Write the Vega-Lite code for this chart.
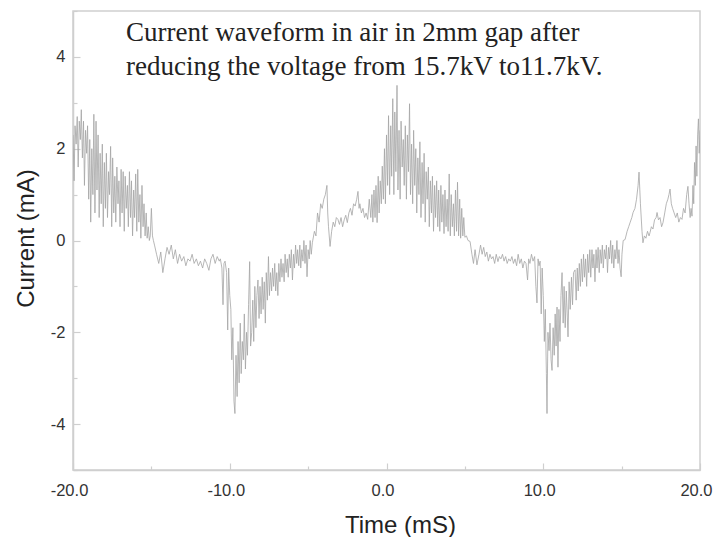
{
  "$schema": "https://vega.github.io/schema/vega-lite/v6.json",
  "autosize": "none",
  "width": 627,
  "height": 459,
  "padding": {"left": 73, "top": 11, "right": 13, "bottom": 67},
  "background": "white",
  "config": {
    "view": {"stroke": "#cfcfcf", "strokeWidth": 1.5},
    "axis": {
      "domainColor": "#cfcfcf", "domainWidth": 1.5,
      "tickColor": "#cfcfcf", "tickWidth": 1.2,
      "grid": false,
      "labelFont": "Liberation Sans", "labelFontSize": 16.5, "labelColor": "#333",
      "titleFont": "Liberation Sans", "titleFontSize": 24, "titleFontWeight": "normal", "titleColor": "#222"
    }
  },
  "datasets": {
    "wave": [
      {"t":-20.0,"i":2.3},{"t":-19.93,"i":1.3},{"t":-19.87,"i":2.5},{"t":-19.8,"i":2.1},{"t":-19.73,"i":2.7},{"t":-19.67,"i":1.6},{"t":-19.6,"i":2.6},{"t":-19.53,"i":2.2},{"t":-19.47,"i":2.85},{"t":-19.4,"i":1.8},
      {"t":-19.33,"i":2.6},{"t":-19.27,"i":1.2},{"t":-19.2,"i":2.4},{"t":-19.13,"i":1.9},{"t":-19.07,"i":2.5},{"t":-19.0,"i":0.9},{"t":-18.93,"i":2.2},{"t":-18.87,"i":0.4},{"t":-18.8,"i":2.0},{"t":-18.73,"i":1.0},
      {"t":-18.67,"i":2.75},{"t":-18.6,"i":0.6},{"t":-18.53,"i":2.6},{"t":-18.47,"i":1.1},{"t":-18.4,"i":2.3},{"t":-18.33,"i":0.5},{"t":-18.27,"i":1.9},{"t":-18.2,"i":0.8},{"t":-18.13,"i":2.1},{"t":-18.07,"i":0.3},
      {"t":-18.0,"i":1.7},{"t":-17.93,"i":0.7},{"t":-17.87,"i":1.9},{"t":-17.8,"i":0.5},{"t":-17.73,"i":1.5},{"t":-17.67,"i":1.0},{"t":-17.6,"i":2.05},{"t":-17.53,"i":0.3},{"t":-17.47,"i":1.8},{"t":-17.4,"i":0.6},
      {"t":-17.33,"i":1.4},{"t":-17.27,"i":0.4},{"t":-17.2,"i":1.6},{"t":-17.13,"i":0.8},{"t":-17.07,"i":1.3},{"t":-17.0,"i":0.3},{"t":-16.93,"i":1.55},{"t":-16.87,"i":0.6},{"t":-16.8,"i":1.5},{"t":-16.73,"i":0.2},
      {"t":-16.67,"i":1.4},{"t":-16.6,"i":0.7},{"t":-16.53,"i":1.2},{"t":-16.47,"i":0.3},{"t":-16.4,"i":1.5},{"t":-16.33,"i":0.5},{"t":-16.27,"i":1.3},{"t":-16.2,"i":0.1},{"t":-16.13,"i":1.1},{"t":-16.07,"i":0.5},
      {"t":-16.0,"i":1.45},{"t":-15.93,"i":0.2},{"t":-15.87,"i":1.55},{"t":-15.8,"i":0.4},{"t":-15.73,"i":1.0},{"t":-15.67,"i":0.05},{"t":-15.6,"i":1.2},{"t":-15.53,"i":0.3},{"t":-15.47,"i":0.8},{"t":-15.4,"i":0.1},
      {"t":-15.33,"i":0.6},{"t":-15.27,"i":0.05},{"t":-15.2,"i":0.3},{"t":-15.13,"i":0.0},{"t":-15.07,"i":0.1},{"t":-15.0,"i":0.7},{"t":-14.93,"i":0.1},{"t":-14.87,"i":0.0},
      {"t":-14.8,"i":-0.1},{"t":-14.67,"i":-0.3},{"t":-14.53,"i":-0.5},{"t":-14.4,"i":-0.25},{"t":-14.27,"i":-0.7},{"t":-14.13,"i":-0.4},{"t":-14.0,"i":-0.15},{"t":-13.87,"i":-0.3},{"t":-13.73,"i":-0.1},{"t":-13.6,"i":-0.4},
      {"t":-13.47,"i":-0.2},{"t":-13.33,"i":-0.5},{"t":-13.2,"i":-0.3},{"t":-13.07,"i":-0.45},{"t":-12.93,"i":-0.35},{"t":-12.8,"i":-0.55},{"t":-12.67,"i":-0.4},{"t":-12.53,"i":-0.45},{"t":-12.4,"i":-0.3},{"t":-12.27,"i":-0.5},
      {"t":-12.13,"i":-0.4},{"t":-12.0,"i":-0.55},{"t":-11.87,"i":-0.45},{"t":-11.73,"i":-0.6},{"t":-11.6,"i":-0.4},{"t":-11.47,"i":-0.5},{"t":-11.33,"i":-0.65},{"t":-11.2,"i":-0.4},{"t":-11.07,"i":-0.3},{"t":-10.93,"i":-0.5},
      {"t":-10.8,"i":-0.35},{"t":-10.67,"i":-0.45},{"t":-10.6,"i":-0.4},{"t":-10.5,"i":-0.6},{"t":-10.43,"i":-1.4},{"t":-10.37,"i":-0.5},{"t":-10.3,"i":-0.45},{"t":-10.2,"i":-0.7},{"t":-10.13,"i":-1.95},{"t":-10.07,"i":-0.6},
      {"t":-10.0,"i":-1.2},{"t":-9.93,"i":-1.5},{"t":-9.87,"i":-2.6},{"t":-9.8,"i":-1.9},{"t":-9.73,"i":-3.5},{"t":-9.67,"i":-3.77},{"t":-9.6,"i":-2.5},{"t":-9.53,"i":-3.4},{"t":-9.47,"i":-2.2},{"t":-9.4,"i":-3.1},
      {"t":-9.33,"i":-1.8},{"t":-9.27,"i":-2.9},{"t":-9.2,"i":-2.2},{"t":-9.13,"i":-2.6},{"t":-9.07,"i":-1.6},{"t":-9.0,"i":-2.8},{"t":-8.93,"i":-2.0},{"t":-8.87,"i":-2.5},{"t":-8.8,"i":-1.4},{"t":-8.73,"i":-0.46},
      {"t":-8.67,"i":-2.3},{"t":-8.6,"i":-2.0},{"t":-8.53,"i":-1.3},{"t":-8.47,"i":-2.2},{"t":-8.4,"i":-1.0},{"t":-8.33,"i":-1.9},{"t":-8.27,"i":-1.2},{"t":-8.2,"i":-0.86},{"t":-8.13,"i":-1.7},{"t":-8.07,"i":-1.0},
      {"t":-8.0,"i":-1.6},{"t":-7.93,"i":-0.8},{"t":-7.87,"i":-1.5},{"t":-7.8,"i":-0.9},{"t":-7.73,"i":-1.8},{"t":-7.67,"i":-0.7},{"t":-7.6,"i":-1.3},{"t":-7.53,"i":-0.35},{"t":-7.47,"i":-1.2},{"t":-7.4,"i":-0.7},
      {"t":-7.33,"i":-1.1},{"t":-7.27,"i":-0.6},{"t":-7.2,"i":-1.0},{"t":-7.13,"i":-0.5},{"t":-7.07,"i":-1.1},{"t":-7.0,"i":-0.7},{"t":-6.93,"i":-1.2},{"t":-6.87,"i":-0.5},{"t":-6.8,"i":-0.9},{"t":-6.73,"i":-0.4},
      {"t":-6.67,"i":-0.8},{"t":-6.6,"i":-0.5},{"t":-6.53,"i":-0.9},{"t":-6.47,"i":-0.3},{"t":-6.4,"i":-0.7},{"t":-6.33,"i":-0.4},{"t":-6.27,"i":-0.8},{"t":-6.2,"i":-0.3},{"t":-6.13,"i":-0.6},{"t":-6.07,"i":-0.2},
      {"t":-6.0,"i":-0.86},{"t":-5.93,"i":-0.3},{"t":-5.87,"i":-0.6},{"t":-5.8,"i":-0.1},{"t":-5.73,"i":-0.5},{"t":-5.67,"i":-0.2},{"t":-5.6,"i":-0.55},{"t":-5.53,"i":-0.1},{"t":-5.47,"i":-0.6},{"t":-5.4,"i":-0.2},
      {"t":-5.33,"i":-0.45},{"t":-5.27,"i":0.0},{"t":-5.2,"i":-0.5},{"t":-5.13,"i":-0.1},{"t":-5.07,"i":-0.79},{"t":-5.0,"i":-0.2},{"t":-4.93,"i":-0.4},{"t":-4.87,"i":0.0},{"t":-4.8,"i":-0.3},{"t":-4.73,"i":-0.05},
      {"t":-4.6,"i":0.2},{"t":-4.5,"i":0.1},{"t":-4.4,"i":0.6},{"t":-4.3,"i":0.4},{"t":-4.2,"i":0.8},{"t":-4.1,"i":0.7},{"t":-4.0,"i":0.9},{"t":-3.9,"i":1.0},{"t":-3.8,"i":1.2},{"t":-3.75,"i":0.6},
      {"t":-3.7,"i":0.3},{"t":-3.6,"i":-0.13},{"t":-3.5,"i":0.2},{"t":-3.4,"i":0.4},{"t":-3.3,"i":0.3},{"t":-3.2,"i":0.5},{"t":-3.1,"i":0.46},{"t":-3.0,"i":0.35},{"t":-2.9,"i":0.5},{"t":-2.8,"i":0.3},
      {"t":-2.7,"i":0.45},{"t":-2.6,"i":0.55},{"t":-2.5,"i":0.39},{"t":-2.4,"i":0.6},{"t":-2.3,"i":0.7},{"t":-2.2,"i":0.55},{"t":-2.1,"i":0.8},{"t":-2.0,"i":0.75},{"t":-1.9,"i":0.9},{"t":-1.82,"i":1.07},
      {"t":-1.75,"i":0.7},{"t":-1.7,"i":0.8},{"t":-1.6,"i":0.6},{"t":-1.5,"i":0.7},{"t":-1.4,"i":0.5},{"t":-1.3,"i":0.6},{"t":-1.2,"i":0.46},{"t":-1.1,"i":0.9},{"t":-1.0,"i":0.5},{"t":-0.93,"i":1.0},
      {"t":-0.87,"i":0.4},{"t":-0.8,"i":1.1},{"t":-0.73,"i":0.5},{"t":-0.67,"i":1.2},{"t":-0.6,"i":0.39},{"t":-0.53,"i":1.4},{"t":-0.47,"i":0.6},{"t":-0.4,"i":1.3},{"t":-0.33,"i":0.8},{"t":-0.27,"i":1.62},
      {"t":-0.2,"i":0.9},{"t":-0.13,"i":2.0},{"t":-0.07,"i":0.8},{"t":0.0,"i":2.3},{"t":0.07,"i":1.2},{"t":0.13,"i":2.72},{"t":0.2,"i":1.0},{"t":0.27,"i":2.5},{"t":0.33,"i":1.4},{"t":0.4,"i":3.09},
      {"t":0.47,"i":1.0},{"t":0.53,"i":2.8},{"t":0.6,"i":1.5},{"t":0.67,"i":3.38},{"t":0.73,"i":1.1},{"t":0.8,"i":2.4},{"t":0.87,"i":0.9},{"t":0.93,"i":2.6},{"t":1.0,"i":1.6},{"t":1.07,"i":2.2},
      {"t":1.13,"i":1.2},{"t":1.2,"i":2.5},{"t":1.27,"i":0.9},{"t":1.33,"i":2.3},{"t":1.4,"i":1.5},{"t":1.47,"i":2.98},{"t":1.53,"i":1.0},{"t":1.6,"i":2.1},{"t":1.67,"i":0.8},{"t":1.73,"i":2.4},
      {"t":1.8,"i":1.2},{"t":1.87,"i":2.0},{"t":1.93,"i":0.6},{"t":2.0,"i":1.8},{"t":2.07,"i":1.0},{"t":2.13,"i":2.15},{"t":2.2,"i":0.5},{"t":2.27,"i":1.7},{"t":2.33,"i":0.8},{"t":2.4,"i":1.9},
      {"t":2.47,"i":0.4},{"t":2.53,"i":1.5},{"t":2.6,"i":0.9},{"t":2.67,"i":1.6},{"t":2.73,"i":0.3},{"t":2.8,"i":1.3},{"t":2.87,"i":0.6},{"t":2.93,"i":1.4},{"t":3.0,"i":0.2},{"t":3.07,"i":1.2},
      {"t":3.13,"i":0.5},{"t":3.2,"i":1.3},{"t":3.27,"i":0.3},{"t":3.33,"i":1.1},{"t":3.4,"i":0.2},{"t":3.47,"i":1.2},{"t":3.53,"i":0.4},{"t":3.6,"i":1.0},{"t":3.67,"i":0.15},{"t":3.73,"i":1.1},
      {"t":3.8,"i":0.3},{"t":3.87,"i":0.9},{"t":3.93,"i":0.2},{"t":4.0,"i":1.45},{"t":4.07,"i":0.1},{"t":4.13,"i":1.0},{"t":4.2,"i":0.3},{"t":4.27,"i":0.8},{"t":4.33,"i":0.1},{"t":4.4,"i":1.1},
      {"t":4.47,"i":0.2},{"t":4.53,"i":1.27},{"t":4.6,"i":0.1},{"t":4.67,"i":0.9},{"t":4.73,"i":0.05},{"t":4.8,"i":0.7},{"t":4.87,"i":0.1},{"t":4.93,"i":0.5},{"t":5.0,"i":0.07},{"t":5.1,"i":0.1},
      {"t":5.2,"i":0.0},{"t":5.33,"i":-0.02},{"t":5.45,"i":-0.3},{"t":5.55,"i":-0.5},{"t":5.65,"i":-0.2},{"t":5.77,"i":-0.53},{"t":5.9,"i":-0.3},{"t":6.0,"i":-0.1},{"t":6.1,"i":-0.3},{"t":6.2,"i":-0.15},
      {"t":6.3,"i":-0.35},{"t":6.4,"i":-0.25},{"t":6.5,"i":-0.45},{"t":6.6,"i":-0.3},{"t":6.7,"i":-0.4},{"t":6.8,"i":-0.35},{"t":6.9,"i":-0.5},{"t":7.0,"i":-0.3},{"t":7.11,"i":-0.46},{"t":7.2,"i":-0.35},
      {"t":7.3,"i":-0.4},{"t":7.4,"i":-0.3},{"t":7.5,"i":-0.45},{"t":7.6,"i":-0.35},{"t":7.7,"i":-0.5},{"t":7.8,"i":-0.4},{"t":7.9,"i":-0.45},{"t":8.0,"i":-0.35},{"t":8.1,"i":-0.5},{"t":8.2,"i":-0.4},
      {"t":8.3,"i":-0.55},{"t":8.4,"i":-0.3},{"t":8.5,"i":-0.5},{"t":8.6,"i":-0.4},{"t":8.7,"i":-0.6},{"t":8.8,"i":-0.45},{"t":8.9,"i":-0.5},{"t":9.0,"i":-0.86},{"t":9.07,"i":-0.4},{"t":9.15,"i":-0.5},
      {"t":9.25,"i":-0.3},{"t":9.35,"i":-0.45},{"t":9.45,"i":-0.35},{"t":9.53,"i":-1.0},{"t":9.6,"i":-1.36},{"t":9.67,"i":-0.4},{"t":9.73,"i":-0.55},{"t":9.8,"i":-0.45},{"t":9.87,"i":-1.6},{"t":9.93,"i":-0.6},
      {"t":10.0,"i":-1.2},{"t":10.07,"i":-2.2},{"t":10.13,"i":-1.5},{"t":10.2,"i":-2.9},{"t":10.24,"i":-3.77},{"t":10.3,"i":-2.0},{"t":10.37,"i":-2.4},{"t":10.43,"i":-1.8},{"t":10.5,"i":-2.6},{"t":10.56,"i":-2.83},
      {"t":10.63,"i":-1.9},{"t":10.7,"i":-2.5},{"t":10.76,"i":-1.6},{"t":10.82,"i":-2.3},{"t":10.88,"i":-1.45},{"t":10.94,"i":-2.76},{"t":11.0,"i":-1.5},{"t":11.07,"i":-2.2},{"t":11.13,"i":-1.2},{"t":11.2,"i":-0.7},
      {"t":11.27,"i":-1.8},{"t":11.33,"i":-1.0},{"t":11.4,"i":-1.9},{"t":11.47,"i":-1.1},{"t":11.53,"i":-1.6},{"t":11.58,"i":-2.1},{"t":11.65,"i":-0.9},{"t":11.72,"i":-1.5},{"t":11.8,"i":-0.8},{"t":11.87,"i":-1.4},
      {"t":11.93,"i":-0.7},{"t":12.03,"i":-0.64},{"t":12.1,"i":-1.3},{"t":12.17,"i":-0.6},{"t":12.23,"i":-1.1},{"t":12.3,"i":-0.5},{"t":12.37,"i":-1.0},{"t":12.43,"i":-0.4},{"t":12.5,"i":-0.9},{"t":12.57,"i":-0.3},
      {"t":12.63,"i":-0.8},{"t":12.7,"i":-0.4},{"t":12.77,"i":-1.0},{"t":12.83,"i":-0.3},{"t":12.9,"i":-0.7},{"t":12.97,"i":-0.2},{"t":13.03,"i":-0.8},{"t":13.11,"i":-0.2},{"t":13.17,"i":-0.6},{"t":13.23,"i":-0.3},
      {"t":13.3,"i":-0.9},{"t":13.37,"i":-0.2},{"t":13.43,"i":-0.6},{"t":13.5,"i":-0.15},{"t":13.57,"i":-0.7},{"t":13.63,"i":-0.2},{"t":13.7,"i":-0.5},{"t":13.77,"i":-0.1},{"t":13.83,"i":-0.6},{"t":13.9,"i":-0.2},
      {"t":13.97,"i":-0.4},{"t":14.03,"i":-0.1},{"t":14.1,"i":-0.7},{"t":14.17,"i":-0.15},{"t":14.23,"i":-0.4},{"t":14.3,"i":0.0},{"t":14.37,"i":-0.5},{"t":14.43,"i":-0.1},{"t":14.5,"i":-0.6},{"t":14.57,"i":-0.2},
      {"t":14.63,"i":-0.4},{"t":14.7,"i":0.0},{"t":14.77,"i":-0.5},{"t":14.83,"i":-0.2},{"t":14.9,"i":-0.6},{"t":14.97,"i":-0.79},{"t":15.02,"i":-0.3},{"t":15.1,"i":0.0},{"t":15.22,"i":0.02},{"t":15.35,"i":0.2},
      {"t":15.45,"i":0.3},{"t":15.55,"i":0.4},{"t":15.65,"i":0.5},{"t":15.73,"i":0.61},{"t":15.85,"i":0.7},{"t":15.95,"i":0.9},{"t":16.05,"i":1.2},{"t":16.11,"i":1.49},{"t":16.2,"i":0.8},{"t":16.3,"i":0.2},
      {"t":16.36,"i":-0.05},{"t":16.45,"i":0.1},{"t":16.55,"i":0.05},{"t":16.65,"i":0.2},{"t":16.75,"i":0.1},{"t":16.81,"i":0.17},{"t":16.9,"i":0.3},{"t":17.0,"i":0.25},{"t":17.1,"i":0.45},{"t":17.2,"i":0.5},
      {"t":17.26,"i":0.61},{"t":17.35,"i":0.45},{"t":17.45,"i":0.5},{"t":17.55,"i":0.3},{"t":17.64,"i":0.39},{"t":17.75,"i":0.6},{"t":17.85,"i":0.8},{"t":17.95,"i":0.9},{"t":18.02,"i":1.0},{"t":18.09,"i":1.12},
      {"t":18.17,"i":0.8},{"t":18.25,"i":0.7},{"t":18.35,"i":0.6},{"t":18.45,"i":0.5},{"t":18.55,"i":0.6},{"t":18.65,"i":0.4},{"t":18.75,"i":0.5},{"t":18.85,"i":0.46},{"t":18.95,"i":0.7},{"t":19.05,"i":0.6},
      {"t":19.15,"i":1.0},{"t":19.23,"i":1.18},{"t":19.3,"i":0.8},{"t":19.37,"i":0.5},{"t":19.43,"i":0.7},{"t":19.49,"i":0.53},{"t":19.55,"i":1.2},{"t":19.6,"i":0.8},{"t":19.65,"i":1.7},{"t":19.7,"i":1.2},
      {"t":19.75,"i":2.06},{"t":19.8,"i":1.4},{"t":19.85,"i":2.3},{"t":19.9,"i":2.65},{"t":19.95,"i":1.9},{"t":20.0,"i":2.4}
    ],
    "note": [
      {"t": -16.62, "i": 4.35, "label": ["Current waveform in air in 2mm gap after", "reducing the voltage from 15.7kV to11.7kV."]}
    ]
  },
  "layer": [
    {
      "data": {"name": "wave"},
      "mark": {"type": "line", "color": "#a4a4a4", "strokeWidth": 0.8, "clip": true},
      "encoding": {
        "x": {
          "field": "t", "type": "quantitative",
          "scale": {"domain": [-20, 20], "nice": false, "zero": false},
          "axis": {
            "title": "Time (mS)",
            "values": [-20, -15, -10, -5, 0, 5, 10, 15, 20],
            "labelExpr": "datum.value % 10 === 0 ? (datum.value + '.0') : ''",
            "tickSize": {"condition": {"test": "datum.value % 10 === 0", "value": -7}, "value": -4},
            "labelPadding": 19,
            "labelOffset": -4,
            "labelFlush": false,
            "labelOverlap": false,
            "titleX": 327,
            "titleY": 62,
            "titleBaseline": "alphabetic"
          }
        },
        "y": {
          "field": "i", "type": "quantitative",
          "scale": {"domain": [-5, 5], "nice": false, "zero": false},
          "axis": {
            "title": "Current (mA)",
            "values": [-5, -4, -3, -2, -1, 0, 1, 2, 3, 4, 5],
            "labelExpr": "datum.value % 2 === 0 ? (datum.value + '') : ''",
            "tickSize": {"condition": {"test": "datum.value % 2 === 0", "value": -7}, "value": -4},
            "labelPadding": 15,
            "labelOverlap": false,
            "titleX": -40,
            "titleY": 227,
            "titleAngle": -90,
            "titleAlign": "center",
            "titleBaseline": "alphabetic"
          }
        }
      }
    },
    {
      "data": {"name": "note"},
      "mark": {"type": "text", "font": "Liberation Serif", "fontSize": 27, "lineHeight": 34, "align": "left", "baseline": "alphabetic", "color": "#222"},
      "encoding": {
        "x": {"field": "t", "type": "quantitative"},
        "y": {"field": "i", "type": "quantitative"},
        "text": {"field": "label"}
      }
    }
  ]
}
